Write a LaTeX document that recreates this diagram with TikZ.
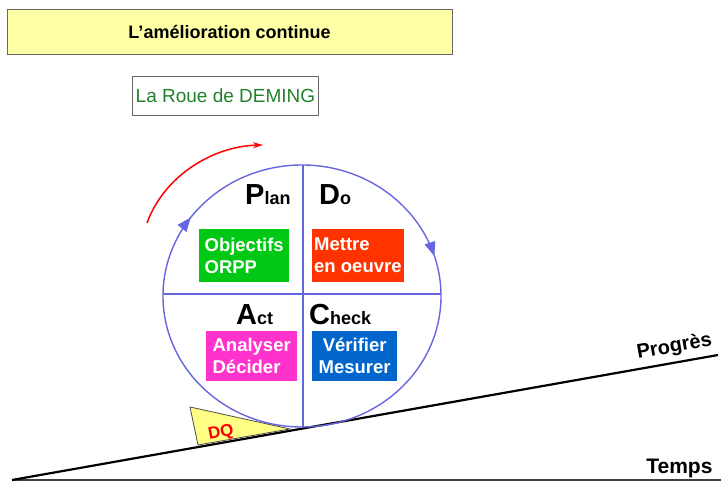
\documentclass[tikz,border=0pt]{standalone}
\usepackage{fontspec}
\setmainfont{Liberation Sans}
\usetikzlibrary{arrows.meta,decorations.markings}
\definecolor{wheelblue}{RGB}{102,102,225}
\definecolor{titleyellow}{RGB}{255,255,166}
\definecolor{rouegreen}{RGB}{34,130,44}
\definecolor{boxgreen}{RGB}{0,200,20}
\definecolor{boxred}{RGB}{255,51,0}
\definecolor{boxpink}{RGB}{255,51,204}
\definecolor{boxblue}{RGB}{0,102,204}
\tikzset{
	box/.style={anchor=north west, inner sep=2pt, text=white, align=left,
		font=\bfseries\fontsize{18.5}{22}\selectfont},
	pdca/.style={anchor=base west, inner sep=0pt, font=\bfseries},
	wheel/.style={wheelblue, line width=1.4pt},
}
\newcommand{\letter}[2]{{\fontsize{29}{29}\selectfont #1}{\fontsize{18}{18}\selectfont #2}}

\begin{document}
\begin{tikzpicture}[x=1pt,y=1pt]
	\useasboundingbox (0,0) rectangle (721,484);
	\node[draw=black!60, fill=titleyellow, minimum width=445, minimum height=45, font=\bfseries\fontsize{18}{18}\selectfont] (title) at (229.5,452.5) {L’amélioration continue};
	\node[draw=black!60, fill=white, minimum width=185, minimum height=39, text=rouegreen, font=\fontsize{19}{19}\selectfont] (roue) at (225.5,388.5) {La Roue de DEMING};
	\coordinate (origin) at (12,4);
	\coordinate (tempsEnd) at (721,4);
	\coordinate (progEnd) at (718,129);
	\draw[black!75, line width=2.5pt] (origin) -- (tempsEnd);
	\draw[black, line width=2.2pt] (origin) -- (progEnd);
	\draw[fill=titleyellow!80!yellow, draw=black!70, line width=0.8pt] (198,39) -- (190,77) -- (290,55) -- cycle;
	\node[rotate=11, inner sep=0pt, text=red, font=\bfseries\fontsize{17}{17}\selectfont] (dq) at (221,51) {DQ};
	\node[anchor=base east, font=\bfseries\fontsize{21}{21}\selectfont] (temps) at (716,10) {Temps};
	\node[anchor=base east, rotate=10, font=\bfseries\fontsize{20}{20}\selectfont] (progres) at (716,139) {Progrès};
	\coordinate (wheelLeft) at (163,188);
	\draw[wheel, postaction={decorate, decoration={markings,
			mark=at position 0.10 with {\arrow{Triangle[length=14pt,width=11pt]}},
			mark=at position 0.452 with {\arrow{Triangle[length=14pt,width=11pt]}}}}]
		(wheelLeft) arc[start angle=180, end angle=-180, x radius=139, y radius=131];
	\draw[wheel] (163,190) -- (441,190);
	\draw[wheel] (303,319) -- (303,57);
	\draw[red, line width=1.5pt, -{Stealth[length=10pt,width=6pt]}] (147,261) .. controls (165,310) and (215,338) .. (263,339);
	\node[pdca] (plan) at (245,279) {\letter{P}{lan}};
	\node[pdca] (do) at (319,279) {\letter{D}{o}};
	\node[pdca] (act) at (236,159) {\letter{A}{ct}};
	\node[pdca] (check) at (309,159) {\letter{C}{heck}};
	\node[box, fill=boxgreen, minimum width=90, minimum height=53] (obj) at (199,255) {Objectifs\\ORPP};
	\node[box, fill=boxred, minimum width=91, minimum height=53] (mettre) at (312,255) {Mettre\\en oeuvre};
	\node[box, fill=boxpink, minimum width=91, minimum height=50] (analyser) at (206,153) {Analyser\\Décider};
	\node[box, fill=boxblue, minimum width=85, minimum height=50, align=center, text width=81] (verifier) at (312,153) {Vérifier\\Mesurer};
\end{tikzpicture}
\end{document}
